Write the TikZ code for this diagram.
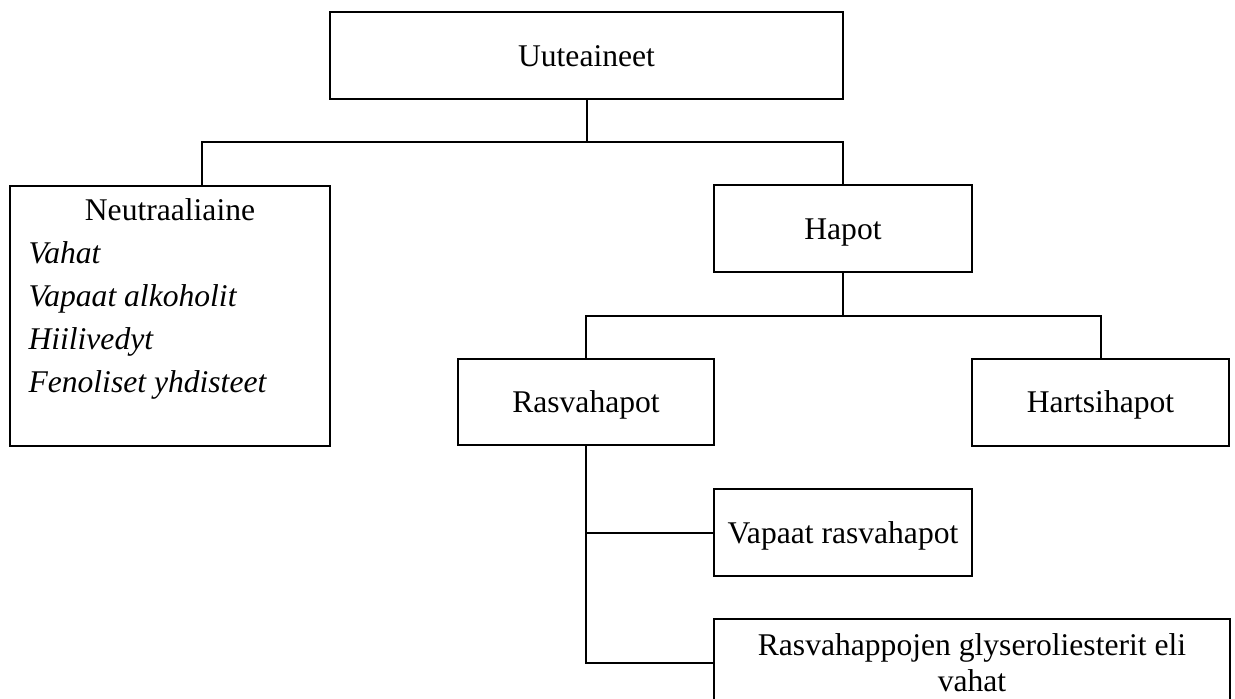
\documentclass[tikz,border=0pt]{standalone}
\usepackage{fontspec}
\setmainfont{Liberation Serif}
\tikzset{
  box/.style={draw=black, line width=2pt, rectangle, inner sep=0pt, text height=21pt, text depth=0pt},
  conn/.style={draw=black, line width=2pt},
  lbl/.style={inner sep=0pt, anchor=base},
  ilbl/.style={inner sep=0pt, anchor=base west, font=\itshape}
}
\begin{document}
\begin{tikzpicture}[x=1pt,y=-1pt]
\fontsize{31.6}{43}\selectfont
\useasboundingbox[clip] (0,0) rectangle (1235,699);
\fill[white] (0,0) rectangle (1235,699);
% boxes
\node[box, minimum width=513pt, minimum height=87pt] (u) at (586.5,55.5) {Uuteaineet};
\node[box, minimum width=320pt, minimum height=260pt] (n) at (170,316) {};
\node[lbl] (nt) at (170,220.7) {Neutraaliaine};
\node[ilbl] (n1) at (28.3,263) {Vahat};
\node[ilbl] (n2) at (28.3,306.5) {Vapaat alkoholit};
\node[ilbl] (n3) at (28.3,349) {Hiilivedyt};
\node[ilbl] (n4) at (28.3,392) {Fenoliset yhdisteet};
\node[box, minimum width=258pt, minimum height=87pt] (h) at (843,228.5) {Hapot};
\node[box, minimum width=256pt, minimum height=86.5pt] (r) at (586,402.2) {Rasvahapot};
\node[box, minimum width=257pt, minimum height=87pt] (hs) at (1100.5,402.3) {Hartsihapot};
\node[box, minimum width=258pt, minimum height=87pt] (v) at (843,532.5) {Vapaat rasvahapot};
\node[box, minimum width=516pt, minimum height=87pt, text height=0pt] (g) at (972,662.8) {};
\node[lbl] (g1) at (972,655) {Rasvahappojen glyseroliesterit eli};
\node[lbl] (g2) at (972,691.5) {vahat};
% connectors
\coordinate (j1) at (586.5,141.7);
\coordinate (nl) at (201.7,186);
\coordinate (j2) at (843,316);
\draw[conn] (u.south) -- (j1);
\draw[conn] (nl) |- (j1);
\draw[conn] (h.north) |- (j1);
\draw[conn] (h.south) -- (j2);
\draw[conn] (r.north) |- (j2);
\draw[conn] (hs.north) |- (j2);
\draw[conn] (r.south) |- (g.west);
\draw[conn] (r.south |- v.west) -- (v.west);
\end{tikzpicture}
\end{document}
